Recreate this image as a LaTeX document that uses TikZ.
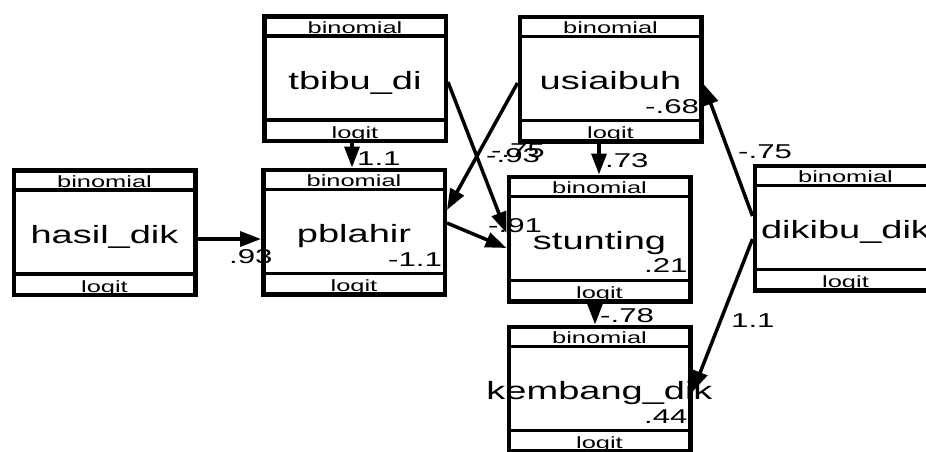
\documentclass[tikz,border=0pt]{standalone}
\usepackage{graphicx}
\usepackage{fontspec}
\setmainfont{Liberation Sans}
\usetikzlibrary{arrows.meta}
\newcommand{\sx}[1]{\scalebox{1.56}[1]{#1}}
\newcommand{\sxb}[1]{\scalebox{1.52}[1]{#1}}
\newcommand{\varbox}[4]{%
  \node[var] (#1) at (#2,#3) {};
  \draw[divider] ([yshift=-22pt]#1.north west) -- ([yshift=-22pt]#1.north east);
  \draw[divider] ([yshift=23pt]#1.south west) -- ([yshift=23pt]#1.south east);
  \node[smalltxt, anchor=base] (#1-fam) at ([yshift=-19pt]#1.north) {\sx{binomial}};
  \node[smalltxt, anchor=base] (#1-link) at ([yshift=5pt]#1.south) {\sx{logit}};
  \node[bigtxt, anchor=base] (#1-lab) at ([yshift=-75pt]#1.north) {\sxb{#4}};
}
\tikzset{
  var/.style={draw, line width=4.5pt, minimum width=181.5pt, minimum height=124.5pt, inner sep=0pt},
  divider/.style={line width=3.5pt},
  smalltxt/.style={font=\fontsize{16.3}{18}\selectfont, inner sep=0pt},
  bigtxt/.style={font=\fontsize{25}{28}\selectfont, inner sep=0pt},
  coef/.style={font=\fontsize{20}{22}\selectfont, inner sep=0pt, anchor=base west},
  arr/.style={line width=3.5pt, -{Triangle[length=21pt,width=15pt]}},
}
\begin{document}
\begin{tikzpicture}[x=1pt,y=-1pt]
\useasboundingbox (0,0) rectangle (926,451);
\clip (0,0) rectangle (926,451);
\varbox{hasil}{104.5}{232.5}{hasil\_dik}
\varbox{tbibu}{355}{78.5}{tbibu\_di}
\varbox{pbl}{354}{232}{pblahir}
\varbox{usia}{610.5}{79}{usiaibuh}
\varbox{stunt}{599.5}{239}{stunting}
\varbox{kemb}{599.5}{389}{kembang\_dik}
\varbox{diki}{845.5}{228}{dikibu\_dik}
% connectors
\draw[arr] ([yshift=-6.5pt]hasil.east) -- ([yshift=-7pt]pbl.west);
\draw[arr] ([xshift=-3pt]tbibu.south) -- ([xshift=-2pt]pbl.north);
\draw[arr] ([yshift=-3.5pt]tbibu.east) -- ([yshift=6pt]stunt.west);
\draw[arr] ([yshift=-4pt]usia.west) -- ([yshift=22pt]pbl.east);
\draw[arr] ([yshift=9pt]pbl.east) -- ([yshift=-9pt]stunt.west);
\draw[arr] ([xshift=-11.5pt]usia.south) -- ([xshift=-0.5pt]stunt.north);
\draw[arr] ([xshift=-4.5pt]stunt.south) -- ([xshift=-4.5pt]kemb.north);
\draw[arr] ([yshift=12pt]diki.west) -- ([yshift=-5pt]usia.east);
\draw[arr] ([yshift=-11pt]diki.west) -- ([yshift=-3pt]kemb.east);
% coefficients
\node[coef] (c1) at (229,263) {\sx{.93}};
\node[coef] (c2) at (357,165) {\sx{1.1}};
\node[coef] (c3) at (486,162) {\sx{-.93}};
\node[coef, anchor=base east] (c4) at (545,157) {\sx{-.75}};
\node[coef] (c5) at (488,232) {\sx{-.91}};
\node[coef] (c6) at (605,167) {\sx{.73}};
\node[coef] (c7) at (644,272) {\sx{.21}};
\node[coef] (c8) at (600,322) {\sx{-.78}};
\node[coef] (c9) at (644,423) {\sx{.44}};
\node[coef] (c10) at (645,113) {\sx{-.68}};
\node[coef] (c11) at (738,158) {\sx{-.75}};
\node[coef] (c12) at (731,327) {\sx{1.1}};
\node[coef] (c13) at (388,266) {\sx{-1.1}};
\end{tikzpicture}
\end{document}
